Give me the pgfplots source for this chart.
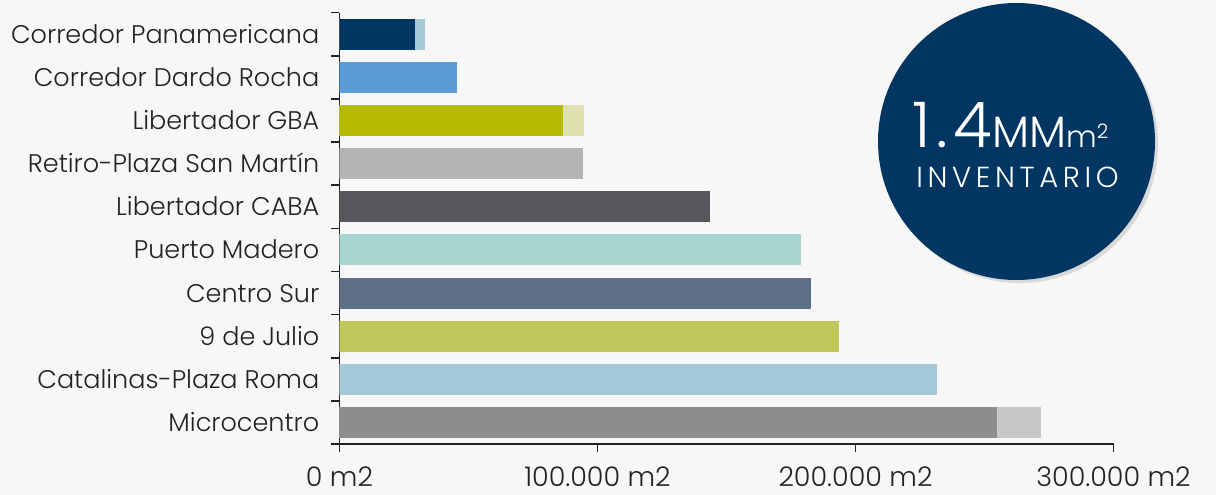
\documentclass[border=0pt]{standalone}
\usepackage{pgfplots}
\pgfplotsset{compat=1.18}
\usepackage{fontspec}
\setmainfont{Poppins Light}
\usetikzlibrary{shadows}
\definecolor{bg}{HTML}{F7F7F7}
\definecolor{navy}{HTML}{003661}
\definecolor{panL}{HTML}{A5CBD8}
\definecolor{dardo}{HTML}{5B9BD6}
\definecolor{gba}{HTML}{B5BB00}
\definecolor{gbaL}{HTML}{DEE1B0}
\definecolor{retiro}{HTML}{B4B4B4}
\definecolor{caba}{HTML}{56575A}
\definecolor{madero}{HTML}{A8D4D2}
\definecolor{sur}{HTML}{5D6E86}
\definecolor{julio}{HTML}{C1C75A}
\definecolor{catal}{HTML}{A4C8D8}
\definecolor{micro}{HTML}{8D8D8D}
\definecolor{microL}{HTML}{C8C8C8}
\definecolor{ink}{HTML}{222222}
\begin{document}
\begin{tikzpicture}[x=1pt,y=1pt]
\path[use as bounding box, fill=bg] (0,0) rectangle (1216,495);
% inventory badge
\fill[navy, drop shadow={opacity=0.25, shadow xshift=3pt, shadow yshift=-3pt}] (1016.5,353.5) circle (138.5);
\node[anchor=base west, inner sep=0pt, text=white] at (912,347)
  {{\fontsize{63}{63}\selectfont\addfontfeatures{LetterSpace=9}1.4}{\fontsize{44}{44}\selectfont MM}{\fontsize{30}{30}\selectfont m\raisebox{9pt}{\fontsize{20}{20}\selectfont 2}}};
\node[anchor=base, inner sep=0pt, text=white] at (1017.5,307)
  {\fontsize{29}{29}\selectfont\addfontfeatures{LetterSpace=16}INVENTARIO};
\begin{axis}[
  at={(339.5pt,51pt)}, anchor=south west,
  scale only axis, width=774pt, height=431.3pt,
  xmin=0, xmax=300000, ymin=-0.5, ymax=9.5,
  y dir=reverse,
  xbar, bar shift=0pt, bar width=31pt,
  axis x line*=bottom, axis y line*=left,
  axis line style={line width=1.6pt, ink},
  tick style={line width=1.6pt, ink},
  tick align=outside,
  major tick length=8pt, minor tick length=8pt,
  scaled x ticks=false,
  xtick={0,100000,200000,300000},
  xticklabels={0 m2,100.000 m2,200.000 m2,300.000 m2},
  ytick={0,...,9},
  yticklabels={Corredor Panamericana,Corredor Dardo Rocha,Libertador GBA,Retiro-Plaza San Martín,Libertador CABA,Puerto Madero,Centro Sur,9 de Julio,Catalinas-Plaza Roma,Microcentro},
  minor ytick={-0.5,0.5,...,9.5},
  major y tick style={draw=none},
  tick label style={text=ink, inner sep=0pt, text depth=0pt},
  yticklabel style={font=\fontsize{25.5}{28}\selectfont, text height=18pt, anchor=east, xshift=-12pt},
  xticklabel style={font=\fontsize{27}{30}\selectfont, text height=19pt, anchor=north, yshift=-15pt},
  every axis plot/.append style={draw=none},
]
% totals (lighter extension)
\addplot[fill=panL] coordinates {(33100,0)};
\addplot[fill=gbaL] coordinates {(94800,2)};
\addplot[fill=microL] coordinates {(271900,9)};
% main values
\addplot[fill=navy] coordinates {(29300,0)};
\addplot[fill=dardo] coordinates {(45500,1)};
\addplot[fill=gba] coordinates {(86600,2)};
\addplot[fill=retiro] coordinates {(94400,3)};
\addplot[fill=caba] coordinates {(143600,4)};
\addplot[fill=madero] coordinates {(178900,5)};
\addplot[fill=sur] coordinates {(182700,6)};
\addplot[fill=julio] coordinates {(193600,7)};
\addplot[fill=catal] coordinates {(231600,8)};
\addplot[fill=micro] coordinates {(254800,9)};
\end{axis}
\end{tikzpicture}
\end{document}
